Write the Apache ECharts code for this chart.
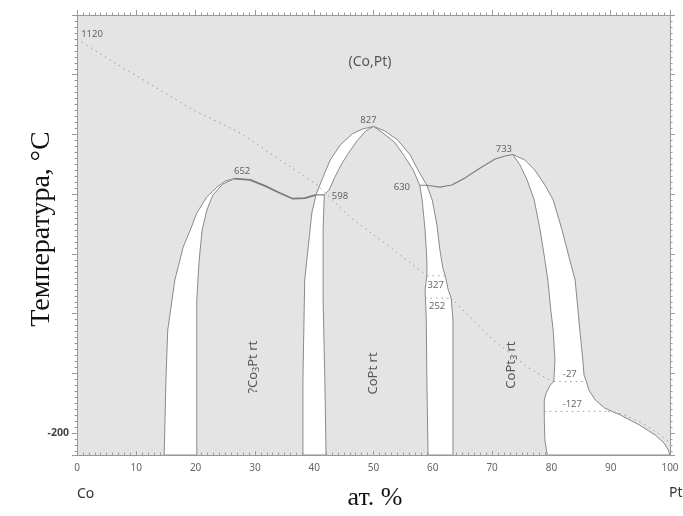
<!DOCTYPE html>
<html>
<head>
<meta charset="utf-8">
<script src="https://cdn.jsdelivr.net/npm/echarts@6/dist/echarts.min.js"></script>
<style>
  html, body { margin: 0; padding: 0; background: #fff; }
  #chart { width: 683px; height: 516px; }
</style>
</head>
<body>
<div id="chart"></div>
<script>
// Co–Pt phase diagram: composition in at.% Pt, temperature in °C

// Two-phase band between (Co,Pt) and ?Co3Pt
const co3ptBandOuter = [[14.7,-273],[15.0,-22],[15.3,145],[16.5,313],[17.9,423],[19.1,480],[20.2,537],[21.9,591],[23.6,624],[25.0,644],[26.5,652]];
const co3ptBandInner = [[26.5,652],[24.6,634],[22.9,597],[21.9,547],[21.1,480],[20.6,380],[20.2,246],[20.2,-22],[20.2,-273]];
// Upper boundary of ?Co3Pt from its maximum to the 598 °C invariant
const co3ptTop = [[26.5,652],[29.2,648],[31.7,628],[34.2,604],[36.4,585],[38.4,587],[40.3,598]];
const tie598 = [[40.3,598],[41.7,598]];

// Two-phase bands on both sides of CoPt
const coptLeftOuter = [[38.1,-273],[38.1,-22],[38.4,313],[39.6,537],[40.3,598],[41.3,648],[42.7,715],[44.4,765],[46.4,802],[48.1,818],[50,827]];
const coptLeftInner = [[50,827],[48.7,812],[47.2,778],[45.9,741],[44.7,704],[43.5,658],[42.5,614],[41.7,598],[41.5,480],[41.5,246],[41.8,-22],[42.0,-273]];
const coptRightInner = [[50,827],[51.4,808],[53.5,775],[55.1,731],[56.7,681],[57.8,630],[58.2,581],[58.7,480],[59.0,380],[59.0,327],[58.7,280],[58.9,179],[59.0,-22],[59.2,-273]];
const coptRightOuter = [[50,827],[51.9,812],[54.1,781],[56.2,731],[57.7,674],[59.0,630],[59.9,581],[60.7,497],[61.2,413],[61.7,353],[62.1,327],[62.6,280],[63.1,252],[63.4,179],[63.4,-22],[63.4,-273]];
const tie630 = [[57.8,630],[59.0,630]];

// Upper boundary of CoPt3 from the 630 °C invariant to its maximum
const copt3Top = [[59.0,630],[61.2,624],[63.2,631],[65.4,654],[68.0,688],[70.5,718],[72.2,728],[73.5,733]];
// Two-phase band between CoPt3 and (Co,Pt)
const copt3BandInner = [[73.5,733],[74.7,698],[75.9,648],[77.1,581],[78.1,480],[78.9,380],[79.4,313],[79.9,212],[80.3,145],[80.6,45],[80.4,-27],[79.8,-39],[79.1,-66],[78.8,-89],[78.8,-156],[78.9,-223],[79.3,-273]];
const copt3BandOuter = [[73.5,733],[75.5,715],[77.2,681],[78.9,631],[80.3,581],[81.8,480],[83.1,380],[84.0,313],[84.8,145],[85.3,45],[85.5,-5],[85.9,-27],[86.3,-55],[87.4,-89],[89.0,-116],[91.6,-139],[94.9,-173],[97.5,-206],[99.0,-233],[99.7,-256],[100,-273]];

// Curie (magnetic) transition
const curieCo = [[0,1120],[6.1,1043],[19.6,882],[27.5,805],[40.5,631],[46.0,524],[52.8,423],[59.0,327]];
const curie327 = [[59.0,327],[62.1,327]];
const curie252 = [[58.7,252],[63.1,252]];
const curieCoPt = [[63.1,252],[69.6,122],[75.9,22],[79.3,-18],[80.4,-27]];
const curieM27 = [[80.4,-27],[85.9,-27]];
const curieM127 = [[78.8,-127],[89.6,-127]];
const curiePt = [[89.6,-127],[92,-136],[95,-163],[98,-200],[100,-232]];

// Invariant and critical temperatures
const valueMarks = [[0,1120],[26.5,652],[40.3,598],[50,827],[59,630],[73.5,733],[60.5,327],[60.9,252],[83.1,-27],[84.2,-127]];
const valueLabelOffsets = [[15,-5],[8,-7],[24,1],[-5,-6],[-25,2],[-9,-5],[0,10],[-1,8],[0,-7],[-4,-7]];

// Phase fields
const phaseNames = ['(Co,Pt)', '{a|?Co}{s|3}{a|Pt rt}', '{a|CoPt rt}', '{a|CoPt}{s|3}{a| rt}'];
const phasePositions = [[49.4,1043],[29.7,21],[49.9,0],[73.2,28]];
const phaseRotations = [0, 90, 90, 90];

const xTickValues = [0,10,20,30,40,50,60,70,80,90,100];
const yLabelValues = [-200];

const BAND_FILL = '#ffffff';
const EDGE = '#8a8a8a';

function band(points) {
  return {
    type: 'custom',
    coordinateSystem: 'cartesian2d',
    xAxisIndex: 0, yAxisIndex: 0,
    silent: true, z: 2, clip: true,
    data: [points[0]],
    renderItem: function (params, api) {
      return {
        type: 'polygon',
        shape: { points: points.map(function (p) { return api.coord(p); }) },
        style: { fill: BAND_FILL, stroke: EDGE, lineWidth: 1 }
      };
    }
  };
}

function line(points, style, z) {
  return {
    type: 'line', xAxisIndex: 0, yAxisIndex: 0,
    data: points, symbol: 'none', silent: true, z: z || 3,
    lineStyle: style
  };
}

const solid = { color: '#808080', width: 1.2, type: 'solid' };
const dotted = { color: '#9a9a9a', width: 1, type: [1.5, 4] };

const series = [
  band(co3ptBandOuter.concat(co3ptBandInner)),
  band(coptLeftOuter.concat(coptLeftInner)),
  band(coptRightInner.concat(coptRightOuter.slice().reverse())),
  band(copt3BandInner.concat(copt3BandOuter.slice().reverse())),
  line(co3ptTop, { color: '#7a7a7a', width: 1.8 }),
  line(tie598, solid),
  line(tie630, solid),
  line(copt3Top, solid),
  line(curieCo, dotted, 4),
  line(curie327, dotted, 4),
  line(curie252, dotted, 4),
  line(curieCoPt, dotted, 4),
  line(curieM27, dotted, 4),
  line(curieM127, dotted, 4),
  line(curiePt, dotted, 4),
  {
    type: 'scatter', xAxisIndex: 0, yAxisIndex: 0, silent: true, z: 5,
    symbolSize: 1, itemStyle: { color: 'transparent' },
    data: valueMarks.map(function (m, i) {
      return { value: m, label: { offset: valueLabelOffsets[i] } };
    }),
    label: {
      show: true, position: 'inside',
      formatter: function (p) { return String(p.value[1]); },
      fontFamily: 'Noto Sans', fontSize: 9.5, color: '#444'
    }
  },
  {
    type: 'scatter', xAxisIndex: 0, yAxisIndex: 0, silent: true, z: 5,
    symbolSize: 1, itemStyle: { color: 'transparent' },
    data: phasePositions.map(function (p, i) {
      return {
        value: p,
        label: {
          rotate: phaseRotations[i],
          fontSize: i === 0 ? 14 : 13,
          formatter: phaseNames[i]
        }
      };
    }),
    label: {
      show: true, position: 'inside',
      fontFamily: 'Noto Sans', color: '#333',
      rich: {
        a: { fontFamily: 'Noto Sans', fontSize: 13, color: '#333', lineHeight: 16 },
        s: { fontFamily: 'Noto Sans', fontSize: 9, color: '#333', lineHeight: 10, verticalAlign: 'bottom' }
      }
    }
  }
];

const axisColor = '#9a9a9a';

function frameAxis(extra) {
  return Object.assign({
    type: 'value',
    axisLine: { show: true, onZero: false, lineStyle: { color: axisColor } },
    axisTick: { show: true, length: 5, lineStyle: { color: axisColor } },
    minorTick: { show: true, splitNumber: 10, length: 2.5, lineStyle: { color: axisColor } },
    splitLine: { show: false },
    axisLabel: { show: false }
  }, extra);
}

const option = {
  animation: false,
  backgroundColor: '#ffffff',
  grid: {
    left: 77, top: 15, width: 593, height: 440,
    show: true, backgroundColor: '#e4e4e4', borderWidth: 0
  },
  xAxis: [
    frameAxis({
      min: 0, max: 100, interval: 10, position: 'bottom',
      axisTick: { show: true, inside: true, length: 4, lineStyle: { color: axisColor } },
      axisLabel: {
        show: true, margin: 8, fontFamily: 'Noto Sans', fontSize: 10, color: '#666',
        formatter: function (v) { return xTickValues.indexOf(v) >= 0 ? String(v) : ''; }
      }
    }),
    frameAxis({ min: 0, max: 100, interval: 10, position: 'top' })
  ],
  yAxis: [
    frameAxis({
      min: -273, max: 1200, splitNumber: 7, position: 'left',
      axisLabel: {
        show: true, margin: 8, fontFamily: 'Noto Sans', fontSize: 10.5, fontWeight: 'bold', color: '#444',
        formatter: function (v) { return yLabelValues.indexOf(v) >= 0 ? String(v) : ''; }
      }
    }),
    frameAxis({ min: -273, max: 1200, splitNumber: 7, position: 'right' })
  ],
  graphic: [
    {
      type: 'text', x: 42, y: 229, rotation: Math.PI / 2,
      style: { text: 'Температура, °C', font: '28px "Liberation Serif"', fill: '#111', align: 'center', verticalAlign: 'middle' }
    },
    {
      type: 'text', x: 375, y: 498,
      style: { text: 'ат. %', font: '26px "Liberation Serif"', fill: '#111', align: 'center', verticalAlign: 'middle' }
    },
    {
      type: 'text', x: 77, y: 494,
      style: { text: 'Co', font: '14px "Noto Sans"', fill: '#333', align: 'left', verticalAlign: 'middle' }
    },
    {
      type: 'text', x: 669, y: 493,
      style: { text: 'Pt', font: '14px "Noto Sans"', fill: '#333', align: 'left', verticalAlign: 'middle' }
    }
  ],
  series: series
};

const chart = echarts.init(document.getElementById('chart'), null, { renderer: 'canvas' });
chart.setOption(option);
</script>
</body>
</html>
